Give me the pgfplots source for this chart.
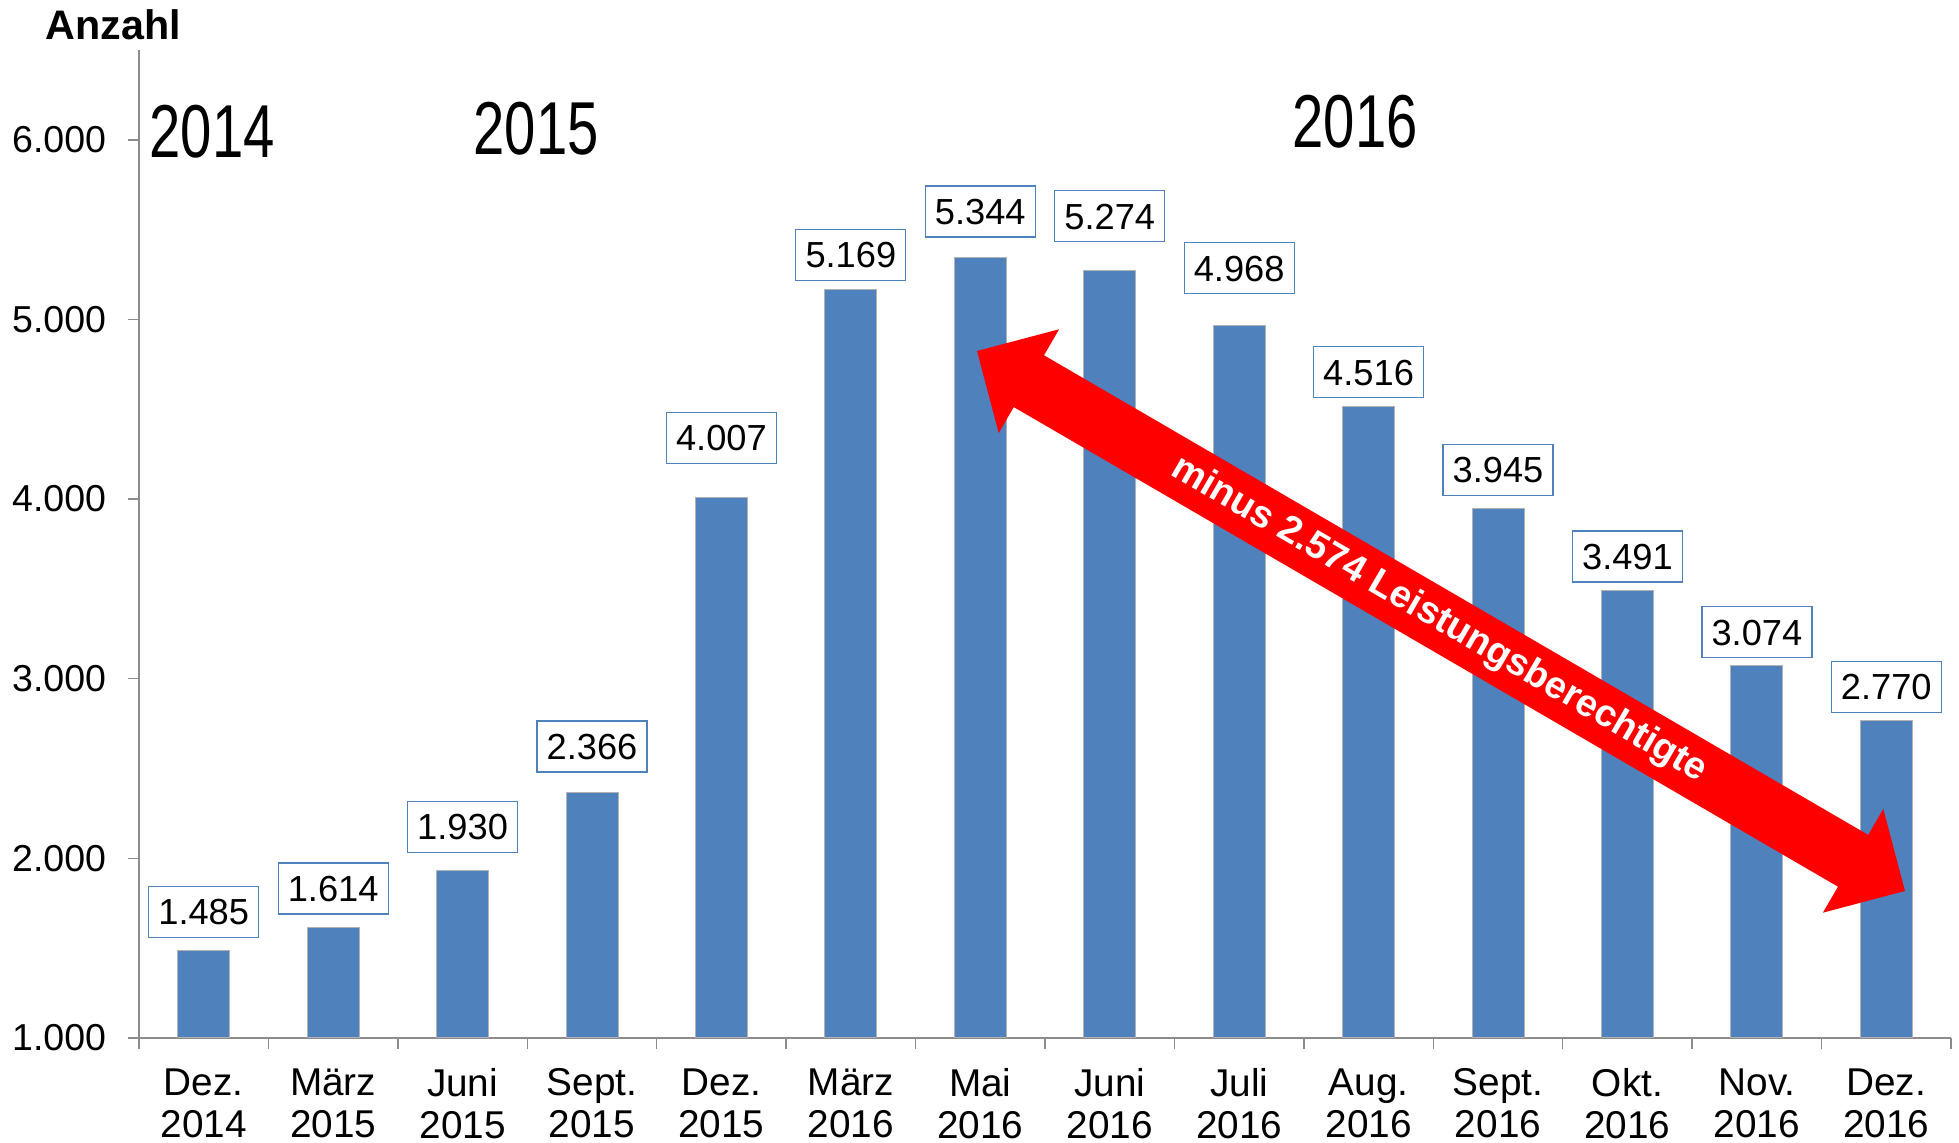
\documentclass[border=0pt]{standalone}
\usepackage{fontspec}
\setmainfont{Liberation Sans}
\newfontfamily\narrowfont[FakeStretch=0.75]{Liberation Sans}
\usepackage{pgfplots}
\pgfplotsset{compat=1.18}
\usepackage{pgfplotstable}
\definecolor{barblue}{HTML}{4F81BD}
\definecolor{axisgray}{HTML}{8C8C8C}

\pgfplotstableread{
x y lab gap
0 1485 1.485 13
1 1614 1.614 13
2 1930 1.930 18
3 2366 2.366 20
4 4007 4.007 34
5 5169 5.169 8
6 5344 5.344 20
7 5274 5.274 28
8 4968 4.968 31
9 4516 4.516 8
10 3945 3.945 13
11 3491 3.491 8
12 3074 3.074 7
13 2770 2.770 7
}\datatable

\begin{document}
\begin{tikzpicture}
\begin{axis}[
  at={(55.6pt,42pt)}, anchor=south west,
  scale only axis, width=724.8pt, height=395.2pt,
  xmin=-0.5, xmax=13.5, ymin=1000, ymax=6500,
  axis x line*=bottom, axis y line*=left,
  axis line style={axisgray, line width=0.6pt},
  tick style={axisgray, line width=0.6pt},
  tick align=outside,
  major tick length=4.6pt,
  ytick={1000,2000,...,6000},
  yticklabels={1.000,2.000,3.000,4.000,5.000,6.000},
  y tick label style={anchor=east, inner sep=0pt, xshift=-8.4pt, font=\fontsize{15}{18}\selectfont},
  xtick={-0.5,0.5,...,13.5},
  xticklabels={},
  extra x ticks={0,1,...,13},
  extra x tick labels={{Dez.\\2014},{März\\2015},{Juni\\2015},{Sept.\\2015},{Dez.\\2015},{März\\2016},{Mai\\2016},{Juni\\2016},{Juli\\2016},{Aug.\\2016},{Sept.\\2016},{Okt.\\2016},{Nov.\\2016},{Dez.\\2016}},
  extra x tick style={major tick length=0pt},
  x tick label style={align=center, anchor=north, inner sep=0pt, yshift=-12pt, font=\fontsize{15.5}{16.8}\selectfont},
]
\addplot[ybar, bar width=20.8pt, fill=barblue, draw=gray!60, line width=0.4pt,
  nodes near coords, point meta=explicit symbolic,
  visualization depends on={\thisrow{gap} \as \gap},
  every node near coord/.append style={anchor=south, yshift=\gap*0.4pt, draw=barblue, line width=0.5pt, fill=white, inner sep=0pt, minimum width=44pt, minimum height=20.4pt, text height=10.4pt, text depth=0pt, font=\fontsize{14.5}{16}\selectfont, text=black}
] table[x=x, y=y, meta=lab] {\datatable};
\end{axis}
\begin{scope}[x=0.4pt, y=-0.4pt, shift={(0pt,457.2pt)}]
 \fill[red] (977,351) -- (1059.1,329.3) -- (1044.0,355.3) -- (1868.2,834.9) -- (1883.3,808.9) -- (1905,891) -- (1822.9,912.7) -- (1838.0,886.7) -- (1013.8,407.1) -- (998.7,433.1) -- cycle;
 \node[rotate=-30.2, text=white, inner sep=0pt, font=\bfseries\fontsize{15.2}{18}\selectfont] at (1439,620) {minus 2.574 Leistungsberechtigte};
 \node[anchor=base west, inner sep=0pt, font=\bfseries\fontsize{16.5}{20}\selectfont] at (45,40) {Anzahl};
 \node[anchor=base west, inner sep=0pt, font=\narrowfont\fontsize{30}{36}\selectfont] at (149,158) {2014};
 \node[anchor=base west, inner sep=0pt, font=\narrowfont\fontsize{30}{36}\selectfont] at (473,155) {2015};
 \node[anchor=base west, inner sep=0pt, font=\narrowfont\fontsize{30}{36}\selectfont] at (1292,148) {2016};
\end{scope}
\pgfresetboundingbox
\path[use as bounding box] (0,0) rectangle (783.6pt,457.2pt);
\end{tikzpicture}
\end{document}
